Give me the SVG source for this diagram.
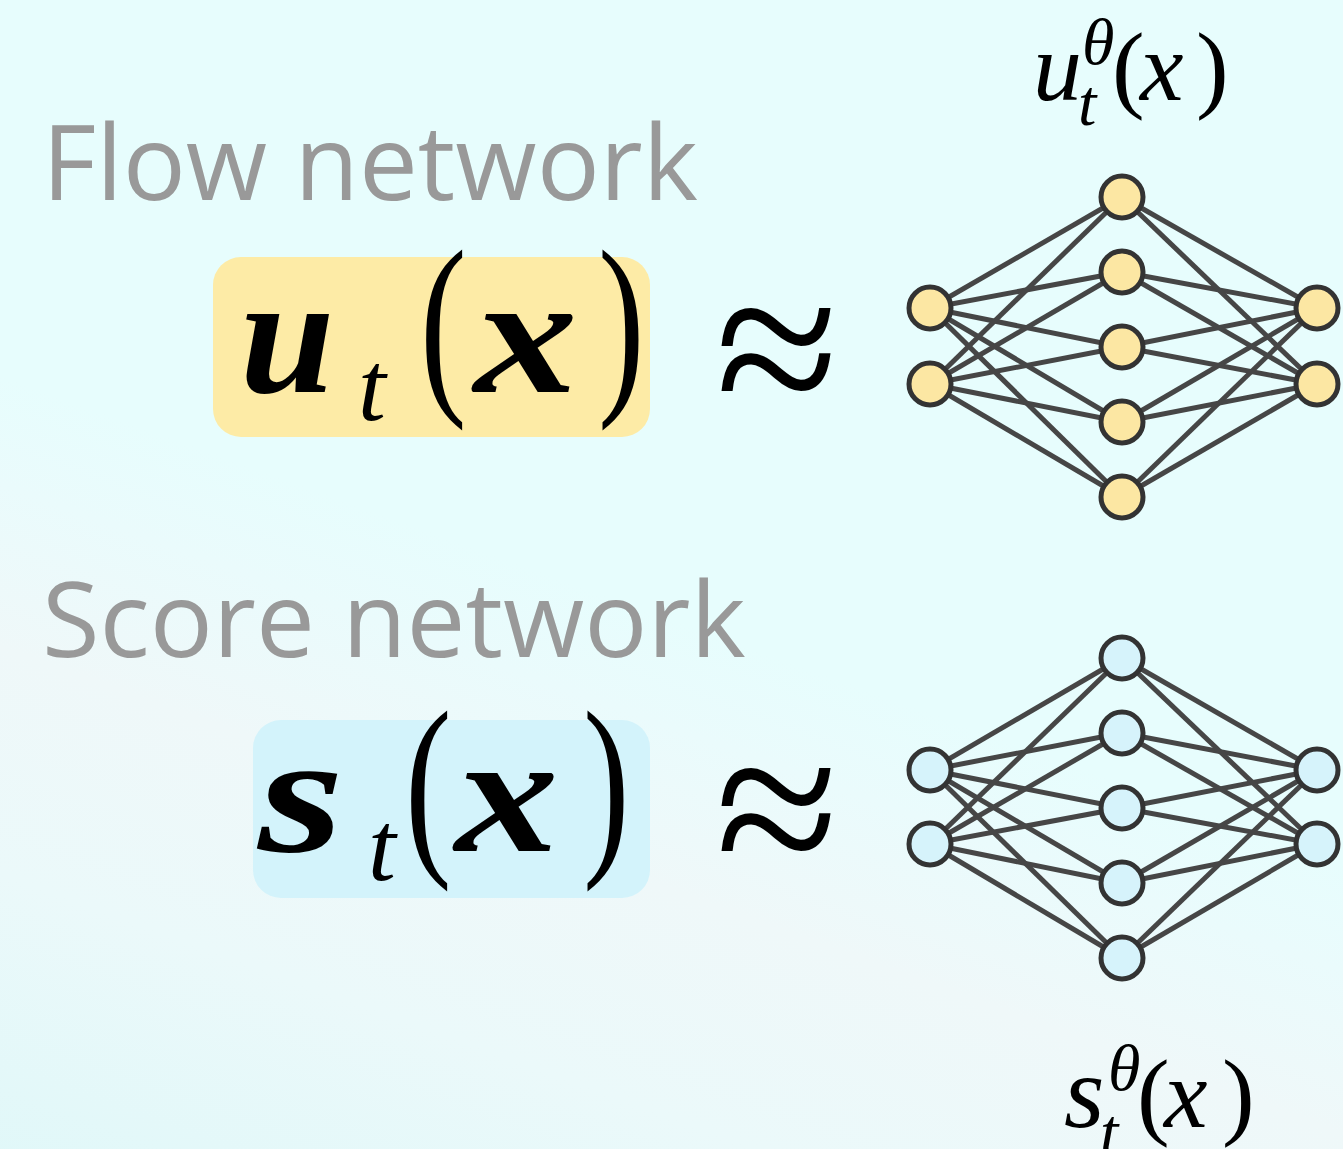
<svg xmlns="http://www.w3.org/2000/svg" width="1343" height="1149" viewBox="0 0 1343 1149">
<defs>
<linearGradient id="bg" gradientUnits="userSpaceOnUse" x1="620" y1="600" x2="330" y2="1400">
<stop offset="0" stop-color="#E7FDFD"/>
<stop offset="0.12" stop-color="#EAFBFC"/>
<stop offset="0.3" stop-color="#EFF8F9"/>
<stop offset="0.55" stop-color="#EBF9FA"/>
<stop offset="1" stop-color="#DCF7F8"/>
</linearGradient>
<style>
.lbl{font-family:"Open Sans","Liberation Sans",sans-serif;font-size:105px;fill:#999999}
.bi{font-family:"Liberation Serif",serif;font-style:italic;font-weight:bold;fill:#000}
.it{font-family:"Liberation Serif",serif;font-style:italic;fill:#000}
.rm{font-family:"Liberation Serif",serif;font-style:normal;fill:#000}
.edge{stroke:#464646;stroke-width:5}
.ny{fill:#FCE7A3;stroke:#333;stroke-width:5}
.nb{fill:#D6F3FB;stroke:#333;stroke-width:5}
</style>
</defs>
<rect width="1343" height="1149" fill="url(#bg)"/>

<g id="flow-label"><text class="lbl" x="42" y="200">Flow network</text></g>
<g id="score-label"><text class="lbl" x="42" y="657">Score network</text></g>

<g id="flow-eq">
<rect x="213" y="257" width="437" height="180" rx="28" fill="#FDEBA6"/>
<text class="bi" x="240" y="392" font-size="170">u</text>
<text class="it" x="358" y="420" font-size="100">t</text>
<text class="rm" x="420" y="0" font-size="140" transform="translate(0,388) scale(1,1.42)">(</text>
<text class="bi" x="0" y="0" font-size="170" transform="translate(474,392) scale(1.22,1)">x</text>
<text class="rm" x="598" y="0" font-size="140" transform="translate(0,388) scale(1,1.42)">)</text>
</g>
<g id="score-eq">
<rect x="253" y="720" width="397" height="178" rx="28" fill="#D3F3FB"/>
<text class="bi" x="0" y="0" font-size="170" transform="translate(258,851) scale(1.3,1)">s</text>
<text class="it" x="368" y="880" font-size="100">t</text>
<text class="rm" x="405" y="0" font-size="140" transform="translate(0,849) scale(1,1.42)">(</text>
<text class="bi" x="0" y="0" font-size="170" transform="translate(455,851) scale(1.22,1)">x</text>
<text class="rm" x="583" y="0" font-size="140" transform="translate(0,849) scale(1,1.42)">)</text>
</g>
<g id="approx1"><text class="rm" x="777" y="424" font-size="225" text-anchor="middle">≈</text></g>
<g id="approx2"><text class="rm" x="777" y="884" font-size="225" text-anchor="middle">≈</text></g>

<g id="connectors">
<line class="edge" x1="930" y1="308" x2="1122" y2="197"/>
<line class="edge" x1="930" y1="308" x2="1122" y2="272"/>
<line class="edge" x1="930" y1="308" x2="1122" y2="347"/>
<line class="edge" x1="930" y1="308" x2="1122" y2="422"/>
<line class="edge" x1="930" y1="308" x2="1122" y2="497"/>
<line class="edge" x1="930" y1="384" x2="1122" y2="197"/>
<line class="edge" x1="930" y1="384" x2="1122" y2="272"/>
<line class="edge" x1="930" y1="384" x2="1122" y2="347"/>
<line class="edge" x1="930" y1="384" x2="1122" y2="422"/>
<line class="edge" x1="930" y1="384" x2="1122" y2="497"/>
<line class="edge" x1="1317" y1="308" x2="1122" y2="197"/>
<line class="edge" x1="1317" y1="308" x2="1122" y2="272"/>
<line class="edge" x1="1317" y1="308" x2="1122" y2="347"/>
<line class="edge" x1="1317" y1="308" x2="1122" y2="422"/>
<line class="edge" x1="1317" y1="308" x2="1122" y2="497"/>
<line class="edge" x1="1317" y1="384" x2="1122" y2="197"/>
<line class="edge" x1="1317" y1="384" x2="1122" y2="272"/>
<line class="edge" x1="1317" y1="384" x2="1122" y2="347"/>
<line class="edge" x1="1317" y1="384" x2="1122" y2="422"/>
<line class="edge" x1="1317" y1="384" x2="1122" y2="497"/>
<line class="edge" x1="930" y1="770" x2="1122" y2="658"/>
<line class="edge" x1="930" y1="770" x2="1122" y2="733"/>
<line class="edge" x1="930" y1="770" x2="1122" y2="808"/>
<line class="edge" x1="930" y1="770" x2="1122" y2="883"/>
<line class="edge" x1="930" y1="770" x2="1122" y2="958"/>
<line class="edge" x1="930" y1="844" x2="1122" y2="658"/>
<line class="edge" x1="930" y1="844" x2="1122" y2="733"/>
<line class="edge" x1="930" y1="844" x2="1122" y2="808"/>
<line class="edge" x1="930" y1="844" x2="1122" y2="883"/>
<line class="edge" x1="930" y1="844" x2="1122" y2="958"/>
<line class="edge" x1="1317" y1="770" x2="1122" y2="658"/>
<line class="edge" x1="1317" y1="770" x2="1122" y2="733"/>
<line class="edge" x1="1317" y1="770" x2="1122" y2="808"/>
<line class="edge" x1="1317" y1="770" x2="1122" y2="883"/>
<line class="edge" x1="1317" y1="770" x2="1122" y2="958"/>
<line class="edge" x1="1317" y1="844" x2="1122" y2="658"/>
<line class="edge" x1="1317" y1="844" x2="1122" y2="733"/>
<line class="edge" x1="1317" y1="844" x2="1122" y2="808"/>
<line class="edge" x1="1317" y1="844" x2="1122" y2="883"/>
<line class="edge" x1="1317" y1="844" x2="1122" y2="958"/>
</g>

<g id="flow-net">
<circle class="ny" cx="930" cy="308" r="21"/>
<circle class="ny" cx="930" cy="384" r="21"/>
<circle class="ny" cx="1122" cy="197" r="21"/>
<circle class="ny" cx="1122" cy="272" r="21"/>
<circle class="ny" cx="1122" cy="347" r="21"/>
<circle class="ny" cx="1122" cy="422" r="21"/>
<circle class="ny" cx="1122" cy="497" r="21"/>
<circle class="ny" cx="1317" cy="308" r="21"/>
<circle class="ny" cx="1317" cy="384" r="21"/>
</g>
<g id="score-net">
<circle class="nb" cx="930" cy="770" r="21"/>
<circle class="nb" cx="930" cy="844" r="21"/>
<circle class="nb" cx="1122" cy="658" r="21"/>
<circle class="nb" cx="1122" cy="733" r="21"/>
<circle class="nb" cx="1122" cy="808" r="21"/>
<circle class="nb" cx="1122" cy="883" r="21"/>
<circle class="nb" cx="1122" cy="958" r="21"/>
<circle class="nb" cx="1317" cy="770" r="21"/>
<circle class="nb" cx="1317" cy="844" r="21"/>
</g>

<g id="u-theta">
<text class="it" font-size="98"><tspan x="1033" y="100">u</tspan><tspan x="1078" y="125" font-size="66">t</tspan><tspan x="1082" y="64" font-size="66">θ</tspan><tspan class="rm" x="1112" y="100">(</tspan><tspan x="1140" y="100">x</tspan><tspan class="rm" x="1196" y="100">)</tspan></text>
</g>
<g id="s-theta">
<text class="it" font-size="98"><tspan x="1064" y="1127" font-size="104">s</tspan><tspan x="1100" y="1154" font-size="66">t</tspan><tspan x="1108" y="1090" font-size="66">θ</tspan><tspan class="rm" x="1137" y="1127">(</tspan><tspan x="1164" y="1127">x</tspan><tspan class="rm" x="1222" y="1127">)</tspan></text>
</g>
</svg>
